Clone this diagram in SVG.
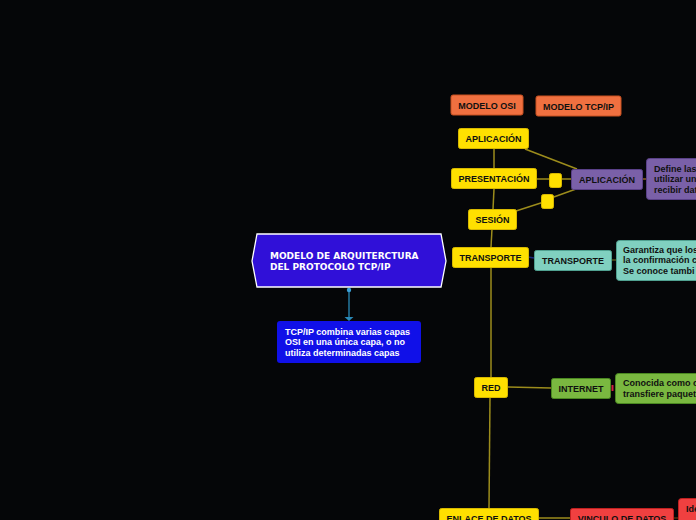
<svg xmlns="http://www.w3.org/2000/svg" width="696" height="520" viewBox="0 0 696 520">
<style>
.lbl{font-family:"Liberation Sans",Arial,sans-serif;font-weight:bold;font-size:9px;text-anchor:middle}
.dsc{font-family:"Liberation Sans",Arial,sans-serif;font-weight:bold;font-size:9px}
.yel{fill:#ffe000;stroke:#d8b800;stroke-width:1}
.con{fill:none;stroke:#9c8c1c;stroke-width:1.5}
</style>
<rect width="696" height="520" fill="#050608"/>
<g id="connectors">
<line class="con" x1="494" y1="148" x2="494" y2="168"/>
<line class="con" x1="494" y1="189" x2="493" y2="209"/>
<line class="con" x1="492" y1="229" x2="491" y2="247"/>
<line class="con" x1="491" y1="267" x2="491" y2="377"/>
<line class="con" x1="490" y1="397" x2="489" y2="508"/>
<line class="con" x1="525" y1="149" x2="577" y2="169"/>
<line class="con" x1="537" y1="179" x2="571" y2="179"/>
<line class="con" x1="516" y1="211" x2="547" y2="201"/>
<line class="con" x1="551" y1="198" x2="576" y2="189"/>
<line x1="528" y1="257" x2="534" y2="258" stroke="#1a2a7a" stroke-width="1.5"/>
<line class="con" x1="507" y1="387" x2="551" y2="388"/>
<line class="con" x1="538" y1="518" x2="570" y2="518"/>
<line x1="642" y1="179" x2="646" y2="179" stroke="#b07830" stroke-width="1.2"/>
<line x1="611" y1="260" x2="616" y2="260" stroke="#6a6a20" stroke-width="1.2"/>
<rect x="611.5" y="385" width="2" height="6" fill="#d02040"/>
<line x1="673" y1="518" x2="678" y2="518" stroke="#6a3a10" stroke-width="1.2"/>
<line x1="349" y1="290" x2="349" y2="317" stroke="#2a8ab8" stroke-width="1.3"/>
<circle cx="349" cy="290" r="2.2" fill="#3aa0d8"/>
<path d="M344.5,317 L353.5,317 L349,321 Z" fill="#2a8ab8"/>
</g>
<g id="modelo-osi">
<rect x="451" y="95" width="72" height="20" rx="2" fill="#f07040" stroke="#c85020"/>
<text class="lbl" x="487" y="108.5" fill="#101010">MODELO OSI</text>
</g>
<g id="modelo-tcpip">
<rect x="536" y="96" width="85" height="20" rx="2" fill="#f07040" stroke="#c85020"/>
<text class="lbl" x="578.5" y="109.5" fill="#101010">MODELO TCP/IP</text>
</g>
<g id="osi-aplicacion">
<rect class="yel" x="458.5" y="128.5" width="70" height="20" rx="2"/>
<text class="lbl" x="493.5" y="141.5" fill="#101010">APLICACIÓN</text>
</g>
<g id="osi-presentacion">
<rect class="yel" x="451.5" y="168.5" width="85" height="20" rx="2"/>
<text class="lbl" x="494" y="181.5" fill="#101010">PRESENTACIÓN</text>
</g>
<g id="joint-1">
<rect class="yel" x="549.5" y="173.5" width="12" height="14" rx="2"/>
</g>
<g id="joint-2">
<rect class="yel" x="541.5" y="194.5" width="12" height="14" rx="2"/>
</g>
<g id="osi-sesion">
<rect class="yel" x="468.5" y="209.5" width="48" height="20" rx="2"/>
<text class="lbl" x="492.5" y="222.5" fill="#101010">SESIÓN</text>
</g>
<g id="osi-transporte">
<rect class="yel" x="452.5" y="247.5" width="76" height="20" rx="2"/>
<text class="lbl" x="490.5" y="260.5" fill="#101010">TRANSPORTE</text>
</g>
<g id="osi-red">
<rect class="yel" x="474.5" y="377.5" width="33" height="20" rx="2"/>
<text class="lbl" x="491" y="390.5" fill="#101010">RED</text>
</g>
<g id="osi-enlace">
<rect class="yel" x="439.5" y="508.5" width="99" height="20" rx="2"/>
<text class="lbl" x="489" y="521.5" fill="#101010">ENLACE DE DATOS</text>
</g>
<g id="tcp-aplicacion">
<rect x="571.5" y="169.5" width="71" height="20" rx="2" fill="#7a60a8" stroke="#5a4088"/>
<text class="lbl" x="607" y="182.5" fill="#101010">APLICACIÓN</text>
</g>
<g id="tcp-aplicacion-desc">
<rect x="646.5" y="158.5" width="60" height="41" rx="3" fill="#7a60a8" stroke="#5a4088"/>
<text class="dsc" x="654" y="171.5" fill="#101010">Define las</text>
<text class="dsc" x="654" y="182" fill="#101010">utilizar un</text>
<text class="dsc" x="654" y="192.5" fill="#101010">recibir dat</text>
</g>
<g id="tcp-transporte">
<rect x="534.5" y="250.5" width="77" height="20" rx="2" fill="#80d0c0" stroke="#50a090"/>
<text class="lbl" x="573" y="263.5" fill="#101010">TRANSPORTE</text>
</g>
<g id="tcp-transporte-desc">
<rect x="616.5" y="240.5" width="90" height="40" rx="3" fill="#80d0c0" stroke="#50a090"/>
<text class="dsc" x="623" y="252.5" fill="#101010">Garantiza que los</text>
<text class="dsc" x="623" y="263" fill="#101010">la confirmación c</text>
<text class="dsc" x="623" y="273.5" fill="#101010">Se conoce tambi</text>
</g>
<g id="tcp-internet">
<rect x="551.5" y="378.5" width="59" height="20" rx="2" fill="#7ab840" stroke="#4a8820"/>
<text class="lbl" x="581" y="391.5" fill="#101010">INTERNET</text>
</g>
<g id="tcp-internet-desc">
<rect x="615.5" y="373.5" width="90" height="30" rx="3" fill="#7ab840" stroke="#4a8820"/>
<text class="dsc" x="623" y="385.5" fill="#101010">Conocida como c</text>
<text class="dsc" x="623" y="396.5" fill="#101010">transfiere paquet</text>
</g>
<g id="tcp-vinculo">
<rect x="570.5" y="508.5" width="103" height="20" rx="2" fill="#f04040" stroke="#c02020"/>
<text class="lbl" x="622" y="521.5" fill="#101010">VINCULO DE DATOS</text>
</g>
<g id="tcp-vinculo-desc">
<rect x="678.5" y="498.5" width="30" height="30" rx="3" fill="#f04040" stroke="#c02020"/>
<text class="dsc" x="686" y="512" fill="#101010">Ide</text>
</g>
<g id="central">
<path d="M257,234 L441,234 L446,261 L441,287 L257,287 L252,261 Z" fill="#3010d8" stroke="#ffffff" stroke-width="1.3"/>
<text x="270" y="259" font-family="'DejaVu Sans',Verdana,sans-serif" font-weight="bold" font-size="9px" fill="#ffffff">MODELO DE ARQUITERCTURA</text>
<text x="270" y="270" font-family="'DejaVu Sans',Verdana,sans-serif" font-weight="bold" font-size="9px" fill="#ffffff">DEL PROTOCOLO TCP/IP</text>
</g>
<g id="tcpip-note">
<rect x="277" y="321" width="144" height="42" rx="3" fill="#1010e8"/>
<text class="dsc" x="285" y="334.5" fill="#ffffff">TCP/IP combina varias capas</text>
<text class="dsc" x="285" y="345" fill="#ffffff">OSI en una única capa, o no</text>
<text class="dsc" x="285" y="355.5" fill="#ffffff">utiliza determinadas capas</text>
</g>
</svg>
